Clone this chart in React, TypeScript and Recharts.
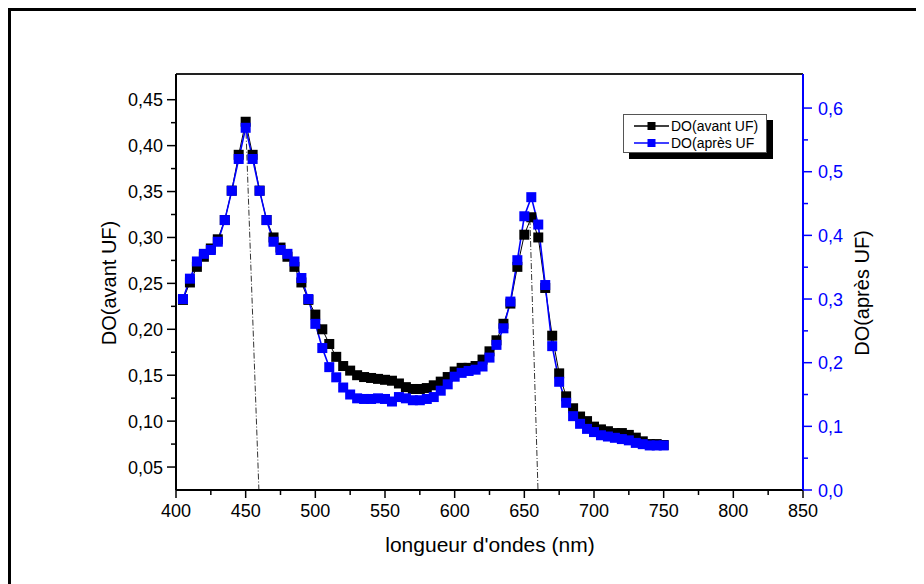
import { ComposedChart, Legend, Line, ReferenceLine, XAxis, YAxis } from "recharts";

// longueur d'onde (nm)
const wavelengths = [
  405, 410, 415, 420, 425, 430, 435, 440, 445, 450, 455, 460, 465, 470, 475, 480, 485, 490, 495, 500,
  505, 510, 515, 520, 525, 530, 535, 540, 545, 550, 555, 560, 565, 570, 575, 580, 585, 590, 595, 600,
  605, 610, 615, 620, 625, 630, 635, 640, 645, 650, 655, 660, 665, 670, 675, 680, 685, 690, 695, 700,
  705, 710, 715, 720, 725, 730, 735, 740, 745, 750,
];

// DO avant UF (axe gauche)
const doAvant = [
  0.232, 0.251, 0.268, 0.279, 0.288, 0.298, 0.319, 0.351, 0.39, 0.426, 0.39, 0.351, 0.319, 0.3, 0.289, 0.279, 0.268, 0.251, 0.232, 0.216,
  0.2, 0.184, 0.17, 0.16, 0.155, 0.15, 0.148, 0.147, 0.146, 0.145, 0.144, 0.141, 0.137, 0.135, 0.135, 0.136, 0.139, 0.143, 0.148, 0.154,
  0.158, 0.158, 0.16, 0.167, 0.176, 0.188, 0.206, 0.228, 0.268, 0.303, 0.322, 0.3, 0.245, 0.193, 0.152, 0.127, 0.114, 0.105, 0.1, 0.094,
  0.091, 0.089, 0.087, 0.087, 0.085, 0.082, 0.078, 0.075, 0.075, 0.074,
];

// DO après UF (axe droit)
const doApres = [
  0.3, 0.332, 0.359, 0.371, 0.377, 0.39, 0.424, 0.47, 0.52, 0.569, 0.52, 0.47, 0.424, 0.39, 0.377, 0.371, 0.359, 0.333, 0.3, 0.261,
  0.223, 0.193, 0.177, 0.161, 0.15, 0.144, 0.143, 0.143, 0.144, 0.143, 0.139, 0.146, 0.144, 0.141, 0.141, 0.143, 0.146, 0.156, 0.166, 0.178,
  0.184, 0.187, 0.189, 0.194, 0.208, 0.228, 0.254, 0.296, 0.361, 0.43, 0.46, 0.417, 0.322, 0.226, 0.17, 0.137, 0.116, 0.104, 0.096, 0.091,
  0.086, 0.084, 0.082, 0.08, 0.078, 0.074, 0.072, 0.07, 0.07, 0.07,
];

const xTicks = [400, 425, 450, 475, 500, 525, 550, 575, 600, 625, 650, 675, 700, 725, 750, 775, 800, 825, 850];
const leftTicks = [0.05, 0.075, 0.1, 0.125, 0.15, 0.175, 0.2, 0.225, 0.25, 0.275, 0.3, 0.325, 0.35, 0.375, 0.4, 0.425, 0.45];
const rightTicks = [0, 0.05, 0.1, 0.15, 0.2, 0.25, 0.3, 0.35, 0.4, 0.45, 0.5, 0.55, 0.6];

// lignes pointillées tracées depuis les pics
const dropLines = [
  [{ x: 450, y: 0.426 }, { x: 459.5, y: 0.025 }],
  [{ x: 654, y: 0.32 }, { x: 659.8, y: 0.025 }],
];

const FONT = '"Liberation Sans", Arial, sans-serif';
const BLUE = "#0000ff";

const data = wavelengths.map((w, i) => ({ w, avant: doAvant[i], apres: doApres[i] }));

function BottomTick({ x, y, payload }: any) {
  const major = payload.value % 50 === 0;
  return (
    <g>
      <line x1={x} x2={x} y1={y} y2={y + (major ? 8 : 5)} stroke="#000" strokeWidth={1.5} />
      {major && (
        <text x={x} y={y + 27} textAnchor="middle" fontSize={18} fontFamily={FONT} fill="#000">
          {payload.value}
        </text>
      )}
    </g>
  );
}

function TopTick({ x, y, payload }: any) {
  const major = payload.value % 50 === 0;
  return <line x1={x} x2={x} y1={y} y2={y + (major ? 8 : 5)} stroke="#000" strokeWidth={1.5} />;
}

function LeftTick({ x, y, payload }: any) {
  const major = Math.round(payload.value * 1000) % 50 === 0;
  return (
    <g>
      <line x1={x} x2={x - (major ? 9 : 5)} y1={y} y2={y} stroke="#000" strokeWidth={1.5} />
      {major && (
        <text x={x - 13} y={y + 6.5} textAnchor="end" fontSize={18} fontFamily={FONT} fill="#000">
          {payload.value.toFixed(2).replace(".", ",")}
        </text>
      )}
    </g>
  );
}

function RightTick({ x, y, payload }: any) {
  const major = Math.round(payload.value * 100) % 10 === 0;
  return (
    <g>
      <line x1={x} x2={x + (major ? 9 : 5)} y1={y} y2={y} stroke={BLUE} strokeWidth={1.5} />
      {major && (
        <text x={x + 15} y={y + 6.5} textAnchor="start" fontSize={18} fontFamily={FONT} fill={BLUE}>
          {payload.value.toFixed(1).replace(".", ",")}
        </text>
      )}
    </g>
  );
}

const squareDot = (color: string) => (props: any) => {
  const { cx, cy, index } = props;
  if (cx == null || cy == null) return <g key={index} />;
  return <rect key={index} x={cx - 5} y={cy - 5} width={10} height={10} fill={color} />;
};

function LegendBox() {
  const rows = [
    { label: "DO(avant UF)", color: "#000" },
    { label: "DO(après UF", color: BLUE },
  ];
  return (
    <div style={{ position: "relative", width: 150, height: 46, fontFamily: FONT }}>
      <div style={{ position: "absolute", left: 6, top: 6, width: 144, height: 39, background: "#000" }} />
      <div
        style={{
          position: "absolute",
          left: 0,
          top: 0,
          width: 144,
          height: 39,
          boxSizing: "border-box",
          background: "#fff",
          border: "1px solid #555",
        }}
      >
        {rows.map((r, i) => (
          <div
            key={r.label}
            style={{ position: "absolute", left: 0, top: 3 + i * 17, height: 16, display: "flex", alignItems: "center" }}
          >
            <svg width={46} height={16} style={{ display: "block" }}>
              <line x1={10} x2={45} y1={8} y2={8} stroke={r.color} strokeWidth={1.5} />
              <rect x={23.5} y={4} width={8} height={8} fill={r.color} />
            </svg>
            <span style={{ fontSize: 14, color: "#000", marginLeft: 1, whiteSpace: "nowrap" }}>{r.label}</span>
          </div>
        ))}
      </div>
    </div>
  );
}

export default function App() {
  return (
    <div
      style={{
        position: "relative",
        width: 916,
        height: 576,
        borderTop: "3px solid #000",
        borderLeft: "3px solid #000",
        boxSizing: "border-box",
        background: "#fff",
      }}
    >
      <div style={{ position: "absolute", left: -3, top: -3 }}>
        <ComposedChart width={916} height={576} data={data} margin={{ top: 56, right: 51, bottom: 54, left: 108 }}>
          <XAxis
            xAxisId="bottom"
            dataKey="w"
            type="number"
            domain={[400, 850]}
            allowDataOverflow
            ticks={xTicks}
            interval={0}
            height={40}
            tickSize={0}
            tickMargin={0}
            tickLine={false}
            axisLine={{ stroke: "#000", strokeWidth: 2 }}
            tick={<BottomTick />}
            label={{
              content: () => (
                <text x={482} y={544} textAnchor="middle" fontSize={21} fontFamily={FONT} fill="#000">
                  longueur d'ondes (nm)
                </text>
              ),
            }}
          />
          <XAxis
            xAxisId="top"
            orientation="top"
            type="number"
            domain={[400, 850]}
            allowDataOverflow
            ticks={xTicks}
            interval={0}
            height={10}
            tickSize={0}
            tickMargin={0}
            tickLine={false}
            axisLine={{ stroke: "#222", strokeWidth: 2 }}
            tick={<TopTick />}
          />
          <YAxis
            yAxisId="left"
            type="number"
            domain={[0.025, 0.478]}
            allowDataOverflow
            ticks={leftTicks}
            interval={0}
            width={60}
            tickSize={0}
            tickMargin={0}
            tickLine={false}
            axisLine={{ stroke: "#000", strokeWidth: 2 }}
            tick={<LeftTick />}
            label={{
              content: () => (
                <text
                  x={101}
                  y={275}
                  transform="rotate(-90 101 275)"
                  textAnchor="middle"
                  dominantBaseline="central"
                  fontSize={20}
                  fontFamily={FONT}
                  fill="#000"
                >
                  DO(avant UF)
                </text>
              ),
            }}
          />
          <YAxis
            yAxisId="right"
            orientation="right"
            type="number"
            domain={[0, 0.6535]}
            allowDataOverflow
            ticks={rightTicks}
            interval={0}
            width={70}
            tickSize={0}
            tickMargin={0}
            tickLine={false}
            axisLine={{ stroke: BLUE, strokeWidth: 2 }}
            tick={<RightTick />}
            label={{
              content: () => (
                <text
                  x={854}
                  y={285}
                  transform="rotate(-90 854 285)"
                  textAnchor="middle"
                  dominantBaseline="central"
                  fontSize={20}
                  fontFamily={FONT}
                  fill="#000"
                >
                  DO(après UF)
                </text>
              ),
            }}
          />
          {dropLines.map((seg, i) => (
            <ReferenceLine
              key={i}
              xAxisId="bottom"
              yAxisId="left"
              segment={seg}
              ifOverflow="visible"
              stroke="#333"
              strokeWidth={1}
              strokeDasharray="6 2 1 2"
            />
          ))}
          <Line
            xAxisId="bottom"
            yAxisId="left"
            type="linear"
            dataKey="avant"
            name="DO(avant UF)"
            stroke="#000"
            strokeWidth={1}
            dot={squareDot("#000")}
            activeDot={false}
            isAnimationActive={false}
          />
          <Line
            xAxisId="bottom"
            yAxisId="right"
            type="linear"
            dataKey="apres"
            name="DO(après UF"
            stroke={BLUE}
            strokeWidth={1.6}
            dot={squareDot(BLUE)}
            activeDot={false}
            isAnimationActive={false}
          />
          <Legend
            layout="horizontal"
            align="center"
            verticalAlign="middle"
            content={() => <LegendBox />}
            wrapperStyle={{ left: 615, top: 106, width: 150, height: 46 }}
          />
        </ComposedChart>
      </div>
    </div>
  );
}
